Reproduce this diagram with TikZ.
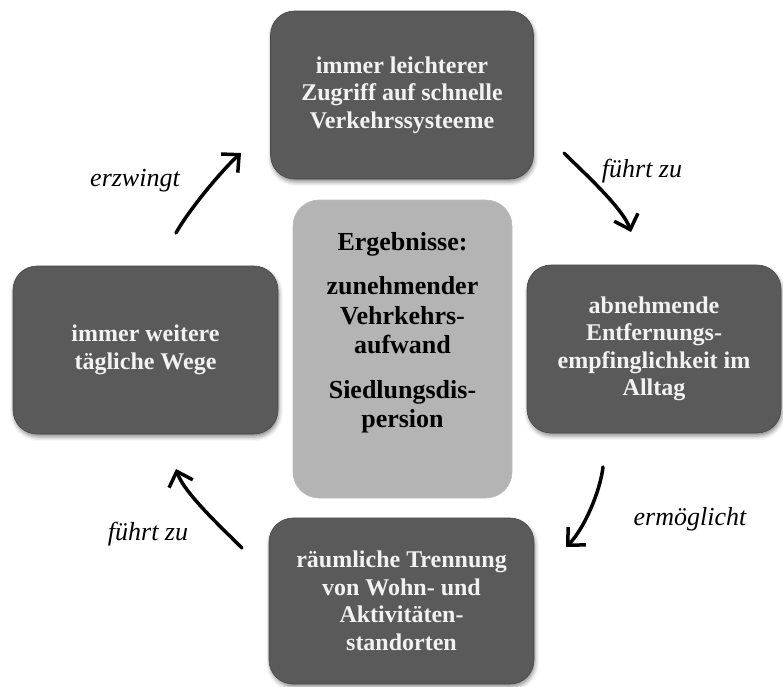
\documentclass[tikz,border=0pt]{standalone}
\usepackage{fontspec}
\setmainfont{Liberation Serif}
\usetikzlibrary{arrows.meta,shadows.blur}
\definecolor{boxdark}{HTML}{5A5A5A}
\definecolor{boxlight}{HTML}{B4B4B4}
\definecolor{boxtext}{HTML}{F2F2F2}
\tikzset{
  cyclebox/.style={rounded corners=24pt, fill=boxdark, draw=boxdark!80!black, line width=0.6pt,
    text=boxtext, font=\bfseries\fontsize{24}{27.5}\selectfont, align=center,
    inner sep=0pt, blur shadow={shadow xshift=1pt, shadow yshift=-3pt, shadow blur radius=4pt, shadow opacity=45}},
  resultbox/.style={rounded corners=26pt, fill=boxlight, draw=boxlight!90!white, line width=0.6pt,
    inner sep=0pt},
  flow/.style={line width=3.5pt, line cap=round, -{Straight Barb[length=13pt,width=25pt,line width=3.5pt]}},
  lab/.style={font=\itshape\fontsize{26}{28}\selectfont, inner sep=0pt}
}
\begin{document}
\begin{tikzpicture}[x=1pt,y=-1pt]
\useasboundingbox (0,0) rectangle (783,686);
% four stages of the cycle
\node[cyclebox, minimum width=263pt, minimum height=168pt] (top) at (402,95)
  {immer leichterer\\Zugriff auf schnelle\\Verkehrssysteeme};
\node[cyclebox, minimum width=254pt, minimum height=168pt] (right) at (654,349)
  {abnehmende\\Entfernungs-\\empfinglichkeit im\\Alltag};
\node[cyclebox, minimum width=265pt, minimum height=166pt] (bottom) at (401.5,601)
  {räumliche Trennung\\von Wohn- und\\Aktivitäten-\\standorten};
\node[cyclebox, minimum width=265pt, minimum height=168pt] (left) at (145.5,350)
  {immer weitere\\tägliche Wege};
% results in the middle
\node[resultbox, minimum width=219pt, minimum height=298pt] (res) at (402.5,349) {};
\node[font=\bfseries\fontsize{26}{29.5}\selectfont, align=center, anchor=north, inner sep=0pt] (restext) at (402.5,232)
  {Ergebnisse:\\[15pt]zunehmender\\Vehrkehrs-\\aufwand\\[15pt]Siedlungsdis-\\persion};
% arrow end points
\coordinate (a1s) at (176,233); \coordinate (a1e) at (241,153);
\coordinate (a2s) at (564,153); \coordinate (a2e) at (631,232);
\coordinate (a3s) at (603,467); \coordinate (a3e) at (566,547);
\coordinate (a4s) at (242,548); \coordinate (a4e) at (176,469);
\draw[flow] (a1s) .. controls (188,211) and (222,170) .. (a1e);
\draw[flow] (a2s) .. controls (582,171) and (623,208) .. (a2e);
\draw[flow] (a3s) .. controls (600,492) and (584,529) .. (a3e);
\draw[flow] (a4s) .. controls (224,530) and (184,493) .. (a4e);
% labels of the arrows
\node[lab] (l1) at (135,181) {erzwingt};
\node[lab] (l2) at (642,171) {führt zu};
\node[lab] (l3) at (690,519) {ermöglicht};
\node[lab] (l4) at (148,534) {führt zu};
\end{tikzpicture}
\end{document}
